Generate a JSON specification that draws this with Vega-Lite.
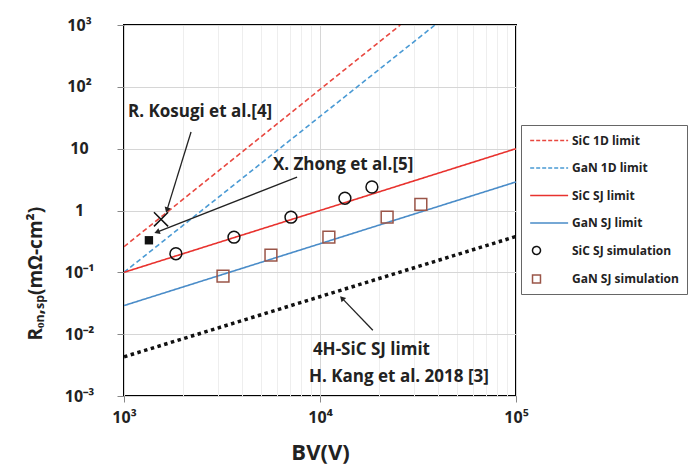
{
  "$schema": "https://vega.github.io/schema/vega-lite/v6.json",
  "width": 392,
  "height": 371,
  "autosize": {"type": "none"},
  "padding": {"left": 124, "top": 25, "right": 172, "bottom": 79},
  "background": "white",
  "config": {
    "font": "Open Sans",
    "view": {"stroke": "black", "strokeWidth": 2},
    "axis": {"domain": false, "labelFont": "Open Sans", "labelFontWeight": "bold", "labelColor": "#222", "titleFont": "Open Sans", "titleFontWeight": "bold", "titleColor": "#222", "tickColor": "#888", "tickWidth": 1}
  },
  "datasets": {
    "lines": [
      {"series": "SiC 1D limit", "bv": 1000, "r": 0.26},
      {"series": "SiC 1D limit", "bv": 25700, "r": 1000},
      {"series": "GaN 1D limit", "bv": 1000, "r": 0.1},
      {"series": "GaN 1D limit", "bv": 38600, "r": 1000},
      {"series": "SiC SJ limit", "bv": 1000, "r": 0.1},
      {"series": "SiC SJ limit", "bv": 100000, "r": 10},
      {"series": "GaN SJ limit", "bv": 1000, "r": 0.029},
      {"series": "GaN SJ limit", "bv": 100000, "r": 2.9},
      {"series": "4H-SiC SJ limit", "bv": 1000, "r": 0.0043},
      {"series": "4H-SiC SJ limit", "bv": 100000, "r": 0.38}
    ],
    "sims": [
      {"series": "SiC SJ simulation", "bv": 1840, "r": 0.2},
      {"series": "SiC SJ simulation", "bv": 3640, "r": 0.37},
      {"series": "SiC SJ simulation", "bv": 7110, "r": 0.78},
      {"series": "SiC SJ simulation", "bv": 13400, "r": 1.58},
      {"series": "SiC SJ simulation", "bv": 18400, "r": 2.4},
      {"series": "GaN SJ simulation", "bv": 3200, "r": 0.087},
      {"series": "GaN SJ simulation", "bv": 5620, "r": 0.19},
      {"series": "GaN SJ simulation", "bv": 11100, "r": 0.37},
      {"series": "GaN SJ simulation", "bv": 22000, "r": 0.78},
      {"series": "GaN SJ simulation", "bv": 32700, "r": 1.26}
    ],
    "kosugi": [{"ref": "R. Kosugi et al.[4]", "bv": 1545, "r": 0.72}],
    "zhong": [{"ref": "X. Zhong et al.[5]", "bv": 1340, "r": 0.33}],
    "arrows": [
      {"name": "kosugi", "bv": 1656, "r": 1.015, "bv2": 2198, "r2": 18.6},
      {"name": "zhong", "bv": 1473, "r": 0.447, "bv2": 7640, "r2": 3.47},
      {"name": "kang", "bv": 12940, "r": 0.0383, "bv2": 18600, "r2": 0.0116}
    ],
    "labels": [
      {"text": "R. Kosugi et al.[4]", "bv": 1048, "r": 39},
      {"text": "X. Zhong et al.[5]", "bv": 5750, "r": 5.43},
      {"text": "4H-SiC SJ limit", "bv": 9200, "r": 0.0055},
      {"text": "H. Kang et al. 2018 [3]", "bv": 8790, "r": 0.002}
    ]
  },
  "encoding": {
    "x": {
      "field": "bv", "type": "quantitative",
      "scale": {"type": "log", "domain": [1000, 100000], "nice": false},
      "axis": {
        "title": "BV(V)", "titleFontSize": 22, "titleY": 56, "titleBaseline": "middle",
        "values": [1000, 2000, 3000, 4000, 5000, 6000, 7000, 8000, 9000, 10000, 20000, 30000, 40000, 50000, 60000, 70000, 80000, 90000, 100000],
        "labelExpr": "datum.value == 1000 ? '10³' : datum.value == 10000 ? '10⁴' : datum.value == 100000 ? '10⁵' : ''",
        "labelFontSize": 16, "labelPadding": 7, "tickSize": 6, "labelFlush": false,
        "grid": true,
        "gridColor": {"condition": {"test": "datum.value == 1000 || datum.value == 10000 || datum.value == 100000", "value": "#d6d6d6"}, "value": "#eeeeee"},
        "tickOpacity": {"condition": {"test": "datum.value == 1000 || datum.value == 10000 || datum.value == 100000", "value": 1}, "value": 0}
      }
    },
    "y": {
      "field": "r", "type": "quantitative",
      "scale": {"type": "log", "domain": [0.001, 1000], "nice": false},
      "axis": {
        "title": "Rₒₙ,ₛₚ(mΩ-cm²)", "titleFontSize": 19, "titleX": -89, "titleY": 315, "titleAlign": "left", "titleBaseline": "middle", "titleAngle": -90,
        "values": [0.001, 0.01, 0.1, 1, 10, 100, 1000],
        "labelExpr": "datum.value >= 999 ? '10³' : datum.value >= 99 ? '10²' : datum.value >= 9 ? '10' : datum.value >= 0.9 ? '1' : datum.value >= 0.09 ? '10⁻¹' : datum.value >= 0.009 ? '10⁻²' : '10⁻³'",
        "labelFontSize": 16, "labelAlign": "center", "labelPadding": 38, "tickSize": 7, "labelFlush": false,
        "grid": true, "gridColor": "#d6d6d6"
      }
    }
  },
  "layer": [
    {
      "data": {"name": "lines"},
      "transform": [{"filter": "datum.series != '4H-SiC SJ limit'"}],
      "mark": {"type": "line", "strokeWidth": 1.6, "clip": true},
      "encoding": {
        "color": {
          "field": "series", "type": "nominal",
          "scale": {
            "domain": ["SiC 1D limit", "GaN 1D limit", "SiC SJ limit", "GaN SJ limit", "SiC SJ simulation", "GaN SJ simulation"],
            "range": ["#e8473f", "#4a9ad4", "#e8322e", "#4a8cc8", "#111111", "#9a5548"]
          },
          "legend": {
            "title": null,
            "orient": "none", "legendX": 397, "legendY": 100,
            "padding": 8, "rowPadding": 13.5,
            "symbolSize": 160, "symbolStrokeWidth": 1.5, "symbolType": "M-1,0H5",
            "labelOffset": 28, "labelFont": "Open Sans", "labelFontWeight": "bold", "labelFontSize": 12, "labelColor": "#222",
            "strokeColor": "#666", "fillColor": "white",
            "encode": {
              "symbols": {
                "update": {
                  "shape": {"signal": "datum.value == 'SiC SJ simulation' ? 'M0.63,0A0.63,0.63 0 1,1 -0.63,0A0.63,0.63 0 1,1 0.63,0Z' : datum.value == 'GaN SJ simulation' ? 'M-0.63,-0.63H0.63V0.63H-0.63Z' : 'M-1,0H5'"},
                  "strokeDash": {"signal": "datum.value == 'SiC 1D limit' || datum.value == 'GaN 1D limit' ? [4, 2] : [1, 0]"},
                  "fill": {"value": "transparent"},
                  "size": {"value": 160}
                }
              }
            }
          }
        },
        "strokeDash": {
          "field": "series", "type": "nominal",
          "scale": {"domain": ["SiC 1D limit", "GaN 1D limit", "SiC SJ limit", "GaN SJ limit"], "range": [[5, 3], [5, 3], [1, 0], [1, 0]]},
          "legend": null
        }
      }
    },
    {
      "data": {"name": "lines"},
      "transform": [{"filter": "datum.series == '4H-SiC SJ limit'"}],
      "mark": {"type": "line", "color": "#111", "strokeWidth": 3.5, "strokeDash": [3.5, 3.5], "clip": true},
      "encoding": {}
    },
    {
      "data": {"name": "sims"},
      "mark": {"type": "point", "filled": false, "strokeWidth": 1.5, "size": 140, "opacity": 1},
      "encoding": {
        "color": {"field": "series", "type": "nominal"},
        "shape": {"field": "series", "type": "nominal", "scale": {"domain": ["SiC SJ simulation", "GaN SJ simulation"], "range": ["circle", "square"]}, "legend": null}
      }
    },
    {
      "data": {"name": "kosugi"},
      "mark": {"type": "point", "shape": "M-1,-1L1,1M-1,1L1,-1", "filled": false, "stroke": "#111", "strokeWidth": 1.5, "size": 200, "opacity": 1},
      "encoding": {}
    },
    {
      "data": {"name": "zhong"},
      "mark": {"type": "point", "shape": "square", "filled": true, "fill": "#111", "size": 70, "opacity": 1},
      "encoding": {}
    },
    {
      "data": {"name": "arrows"},
      "mark": {"type": "rule", "color": "#222", "strokeWidth": 1.3},
      "encoding": {"x2": {"field": "bv2"}, "y2": {"field": "r2"}}
    },
    {
      "data": {"name": "arrows"},
      "transform": [{"filter": "datum.name == 'kosugi'"}],
      "mark": {"type": "point", "shape": "triangle-down", "filled": true, "fill": "#222", "size": 40, "angle": 17, "opacity": 1},
      "encoding": {}
    },
    {
      "data": {"name": "arrows"},
      "transform": [{"filter": "datum.name == 'zhong'"}],
      "mark": {"type": "point", "shape": "triangle-down", "filled": true, "fill": "#222", "size": 40, "angle": 69, "opacity": 1},
      "encoding": {}
    },
    {
      "data": {"name": "arrows"},
      "transform": [{"filter": "datum.name == 'kang'"}],
      "mark": {"type": "point", "shape": "triangle-down", "filled": true, "fill": "#222", "size": 40, "angle": 136, "opacity": 1},
      "encoding": {}
    },
    {
      "data": {"name": "labels"},
      "mark": {"type": "text", "align": "left", "baseline": "middle", "font": "Open Sans", "fontWeight": "bold", "fontSize": 17, "color": "#222"},
      "encoding": {"text": {"field": "text"}}
    }
  ]
}
